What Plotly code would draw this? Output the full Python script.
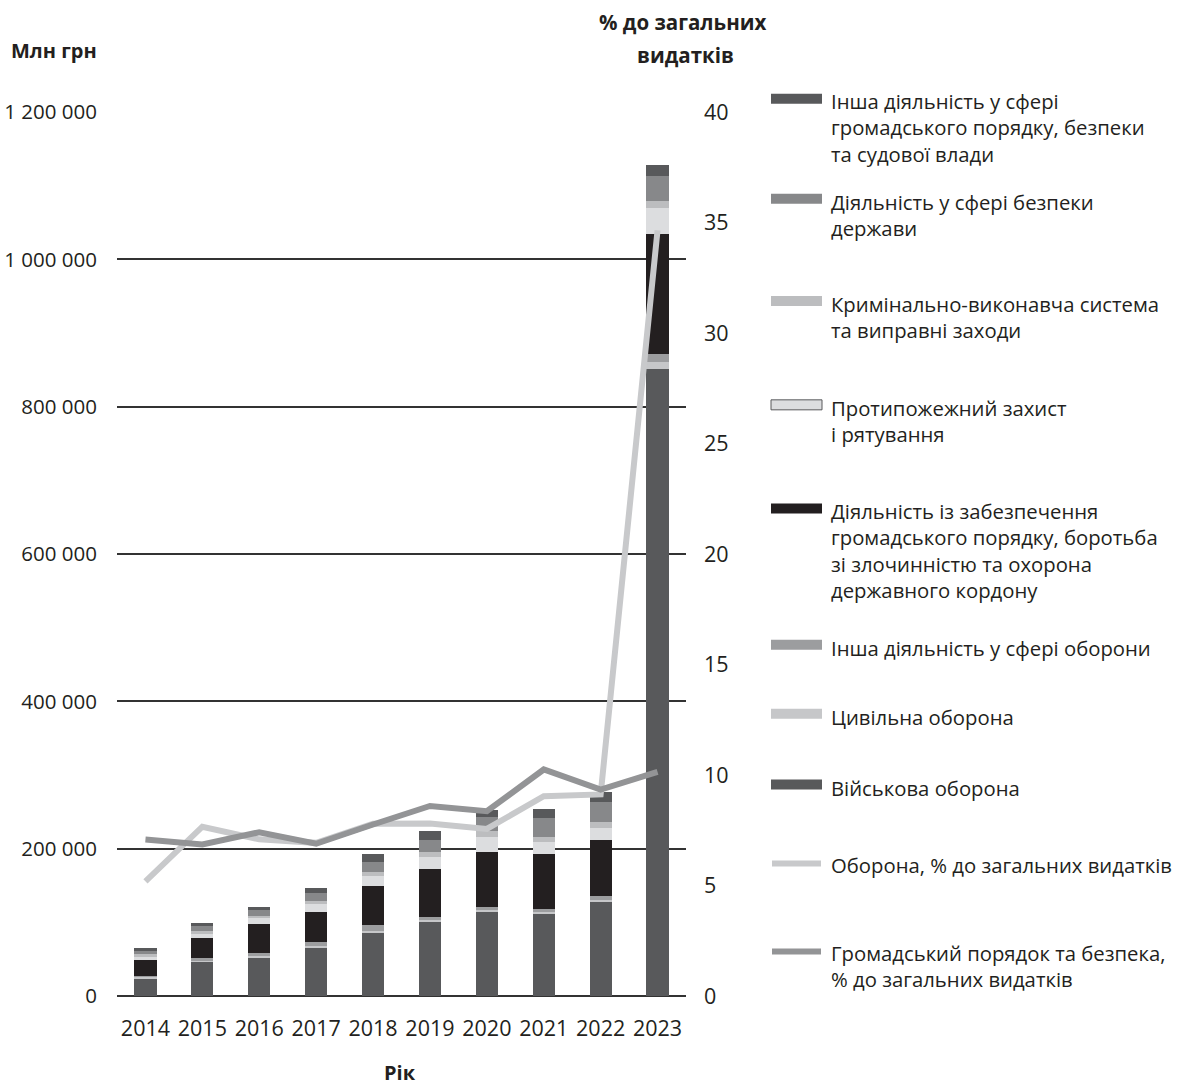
import plotly.graph_objects as go

# ---------------- data ----------------
years = ['2014', '2015', '2016', '2017', '2018', '2019', '2020', '2021', '2022', '2023']

military_defense = [24000, 46600, 52000, 66500, 86500, 100900, 114500, 111400, 127200, 850700]
civil_defense = [1800, 1500, 1700, 1800, 1800, 2300, 2700, 3200, 3200, 10400]
other_defense = [2000, 3000, 5000, 5400, 8100, 3600, 3200, 3600, 5900, 9900]
public_order = [21700, 28100, 38900, 40700, 53400, 65600, 75600, 74700, 75600, 163000]
fire_rescue = [4000, 5500, 7700, 10000, 12700, 15800, 20400, 15800, 16300, 36200]
penitentiary = [3000, 3500, 3600, 4500, 5900, 7700, 8100, 6800, 7700, 9100]
state_security = [5000, 6500, 7200, 10400, 13600, 16300, 18100, 25800, 28100, 34000]
other_order = [3000, 4000, 4100, 7700, 10400, 11800, 10400, 12700, 13100, 14500]

defense_pct = [5.19, 7.66, 7.09, 6.93, 7.79, 7.80, 7.56, 9.04, 9.12, 34.65]
order_pct = [7.08, 6.86, 7.41, 6.89, 7.76, 8.60, 8.36, 10.25, 9.34, 10.14]

left_ticks = [0, 200000, 400000, 600000, 800000, 1000000, 1200000]
left_tick_text = ['0', '200 000', '400 000', '600 000', '800 000', '1 000 000', '1 200 000']
right_ticks = [0, 5, 10, 15, 20, 25, 30, 35, 40]

bar_series = [
    ('Військова оборона', military_defense, '#58595b'),
    ('Цивільна оборона', civil_defense, '#c6c7c9'),
    ('Інша діяльність у сфері оборони', other_defense, '#9c9d9f'),
    ('Діяльність із забезпечення громадського порядку, боротьба зі злочинністю та охорона державного кордону', public_order, '#231f20'),
    ('Протипожежний захист і рятування', fire_rescue, '#dcdddf'),
    ('Кримінально-виконавча система та виправні заходи', penitentiary, '#bcbdbf'),
    ('Діяльність у сфері безпеки держави', state_security, '#87888a'),
    ('Інша діяльність у сфері громадського порядку, безпеки та судової влади', other_order, '#58595b'),
]

legend_items = [
    ('bar', '#58595b', 'Інша діяльність у сфері<br>громадського порядку, безпеки<br>та судової влади', 101.7, 3),
    ('bar', '#87888a', 'Діяльність у сфері безпеки<br>держави', 201.7, 2),
    ('bar', '#bcbdbf', 'Кримінально-виконавча система<br>та виправні заходи', 304, 2),
    ('barb', '#dcdddf', 'Протипожежний захист<br>і рятування', 408, 2),
    ('bar', '#231f20', 'Діяльність із забезпечення<br>громадського порядку, боротьба<br>зі злочинністю та охорона<br>державного кордону', 511.7, 4),
    ('bar', '#9c9d9f', 'Інша діяльність у сфері оборони', 648, 1),
    ('bar', '#c6c7c9', 'Цивільна оборона', 717, 1),
    ('bar', '#58595b', 'Військова оборона', 788, 1),
    ('line', '#c8c9cb', 'Оборона, % до загальних видатків', 865, 1),
    ('line', '#939496', 'Громадський порядок та безпека,<br>% до загальних видатків', 953, 2),
]

FONT = 'Open Sans'
TXT = '#231f20'
W, H = 1182, 1088
PL, PR, PT, PB = 117, 686, 112, 996.5

def px(x):
    return (x - PL) / (PR - PL)

def py(y):
    return (PB - y) / (PB - PT)

fig = go.Figure()
for name, vals, col in bar_series:
    fig.add_trace(go.Bar(x=years, y=vals, name=name, marker=dict(color=col, line=dict(width=0)),
                         showlegend=False))

fig.add_trace(go.Scatter(x=years, y=defense_pct, yaxis='y2', mode='lines',
                         line=dict(color='#c8c9cb', width=6), showlegend=False,
                         name='Оборона, % до загальних видатків'))
fig.add_trace(go.Scatter(x=years, y=order_pct, yaxis='y2', mode='lines',
                         line=dict(color='#939496', width=6), showlegend=False,
                         name='Громадський порядок та безпека, % до загальних видатків'))

shapes = []
annotations = []
LH = 26
for kind, col, text, y0, n in legend_items:
    sy = y0 - 3
    if kind == 'line':
        shapes.append(dict(type='line', xref='paper', yref='paper', x0=px(772), x1=px(821),
                           y0=py(y0 - 1), y1=py(y0 - 1), line=dict(color=col, width=6)))
    else:
        shapes.append(dict(type='rect', xref='paper', yref='paper', x0=px(771), x1=px(822),
                           y0=py(sy - 5), y1=py(sy + 5), fillcolor=col,
                           line=dict(color='#58595b' if kind == 'barb' else col,
                                     width=1 if kind == 'barb' else 0)))
    cy = y0 + (n - 1) * LH / 2
    annotations.append(dict(xref='paper', yref='paper', x=px(829), y=py(cy), text=text,
                            showarrow=False, xanchor='left', yanchor='middle', align='left',
                            font=dict(family=FONT, size=20.3, color=TXT)))

annotations.append(dict(xref='paper', yref='paper', x=px(9), y=py(50), text='<b>Млн грн</b>',
                        showarrow=False, xanchor='left', yanchor='middle',
                        font=dict(family=FONT, size=20, color=TXT)))
annotations.append(dict(xref='paper', yref='paper', x=px(683), y=py(22), text='<b>% до загальних</b>',
                        showarrow=False, xanchor='center', yanchor='middle',
                        font=dict(family=FONT, size=20.5, color=TXT)))
annotations.append(dict(xref='paper', yref='paper', x=px(685), y=py(55), text='<b>видатків</b>',
                        showarrow=False, xanchor='center', yanchor='middle',
                        font=dict(family=FONT, size=20.5, color=TXT)))
annotations.append(dict(xref='paper', yref='paper', x=px(400), y=py(1073), text='<b>Рік</b>',
                        showarrow=False, xanchor='center', yanchor='middle',
                        font=dict(family=FONT, size=20, color=TXT)))

fig.update_layout(
    width=W, height=H,
    margin=dict(l=PL, r=W - PR, t=PT, b=H - PB, pad=0, autoexpand=False),
    barmode='stack', bargap=0.61,
    plot_bgcolor='white', paper_bgcolor='white',
    font=dict(family=FONT, size=21, color=TXT),
    xaxis=dict(type='category', showgrid=False, showline=False, zeroline=False, automargin=False,
               ticks='', ticklabelstandoff=17, tickfont=dict(family=FONT, size=21.5, color=TXT)),
    yaxis=dict(range=[0, 1200000], tickvals=left_ticks, ticktext=left_tick_text, automargin=False,
               showgrid=True, gridcolor='#333333', gridwidth=1.5, zeroline=True,
               zerolinecolor='#333333', zerolinewidth=1.5, showline=False, ticks='',
               ticklabelstandoff=19, tickfont=dict(family=FONT, size=20.5, color=TXT)),
    yaxis2=dict(range=[0, 40], tickvals=right_ticks, overlaying='y', side='right', automargin=False,
                showgrid=False, zeroline=False, showline=False, ticks='',
                ticklabelstandoff=17, tickfont=dict(family=FONT, size=21.5, color=TXT)),
    shapes=shapes, annotations=annotations,
)

fig.write_html('out.html')
